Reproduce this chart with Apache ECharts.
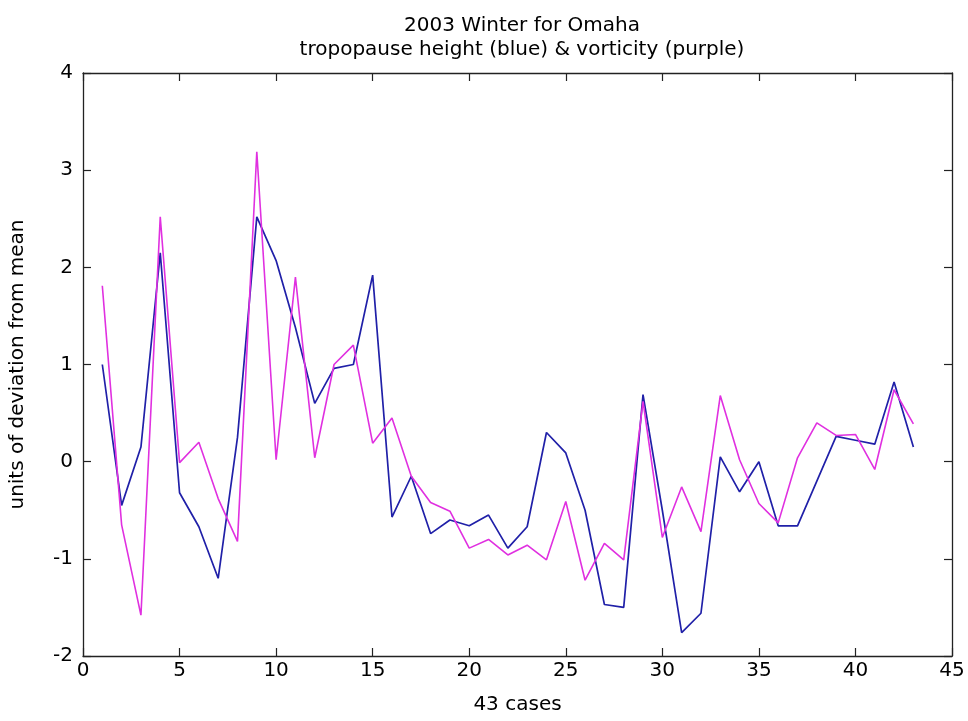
<!DOCTYPE html>
<html>
<head>
<meta charset="utf-8">
<script src="https://cdn.jsdelivr.net/npm/echarts@6/dist/echarts.min.js"></script>
<style>
html,body{margin:0;padding:0;background:#fff;}
#chart{width:968px;height:721px;}
</style>
</head>
<body>
<div id="chart"></div>
<script>
const cases = [1,2,3,4,5,6,7,8,9,10,11,12,13,14,15,16,17,18,19,20,21,22,23,24,25,26,27,28,29,30,31,32,33,34,35,36,37,38,39,40,41,42,43];
const tropopauseHeight = [1.0,-0.45,0.15,2.15,-0.32,-0.67,-1.2,0.25,2.52,2.07,1.38,0.6,0.96,1.0,1.92,-0.57,-0.15,-0.74,-0.6,-0.66,-0.55,-0.89,-0.67,0.3,0.09,-0.5,-1.47,-1.5,0.69,-0.5,-1.76,-1.56,0.05,-0.31,0.0,-0.66,-0.66,-0.2,0.26,0.22,0.18,0.82,0.15];
const vorticity = [1.81,-0.65,-1.58,2.52,-0.01,0.2,-0.38,-0.82,3.19,0.02,1.9,0.04,1.0,1.2,0.19,0.45,-0.15,-0.42,-0.51,-0.89,-0.8,-0.96,-0.86,-1.01,-0.41,-1.22,-0.84,-1.01,0.62,-0.78,-0.26,-0.72,0.68,0.02,-0.43,-0.63,0.04,0.4,0.27,0.28,-0.08,0.74,0.39];
const xTicks = [0,5,10,15,20,25,30,35,40,45];
const yTicks = [-2,-1,0,1,2,3,4];

const fontFam = '"DejaVu Sans",Arial,sans-serif';
const chart = echarts.init(document.getElementById('chart'));
const pairs = arr => cases.map((c,i)=>[c,arr[i]]);
const axLine = {show:true, onZero:false, lineStyle:{color:'#222', width:1.3}};
const tick = {show:true, inside:true, length:8, lineStyle:{color:'#222', width:1.2}};
chart.setOption({
  animation:false,
  backgroundColor:'#fff',
  title:{
    text:'2003 Winter for Omaha\ntropopause height (blue) & vorticity (purple)',
    left:517, top:9, textAlign:'center',
    textStyle:{fontFamily:fontFam, fontSize:20, fontWeight:'normal', color:'#000', lineHeight:24}
  },
  grid:{left:83, right:16, top:73, bottom:65},
  xAxis:[{
    type:'value', min:xTicks[0], max:xTicks[xTicks.length-1], interval:5,
    name:'43 cases', nameLocation:'middle', nameGap:39,
    nameTextStyle:{fontFamily:fontFam, fontSize:20, color:'#000'},
    axisLine:axLine, axisTick:tick,
    axisLabel:{fontFamily:fontFam, fontSize:20, color:'#000', margin:5},
    splitLine:{show:false}
  },{
    type:'value', position:'top', min:xTicks[0], max:xTicks[xTicks.length-1], interval:5,
    axisLine:axLine, axisTick:tick,
    axisLabel:{show:false}, splitLine:{show:false}
  }],
  yAxis:[{
    type:'value', min:yTicks[0], max:yTicks[yTicks.length-1], interval:1,
    name:'units of deviation from mean', nameLocation:'middle', nameGap:55, nameRotate:90,
    nameTextStyle:{fontFamily:fontFam, fontSize:20, color:'#000'},
    axisLine:axLine, axisTick:tick,
    axisLabel:{fontFamily:fontFam, fontSize:20, color:'#000', margin:10},
    splitLine:{show:false}
  },{
    type:'value', position:'right', min:yTicks[0], max:yTicks[yTicks.length-1], interval:1,
    axisLine:axLine, axisTick:tick,
    axisLabel:{show:false}, splitLine:{show:false}
  }],
  series:[{
    name:'tropopause height', type:'line', data:pairs(tropopauseHeight),
    showSymbol:false, lineStyle:{color:'#2020a8', width:1.7}, itemStyle:{color:'#2020a8'}
  },{
    name:'vorticity', type:'line', data:pairs(vorticity),
    showSymbol:false, lineStyle:{color:'#e030e0', width:1.6}, itemStyle:{color:'#e030e0'}
  }]
});
</script>
</body>
</html>
